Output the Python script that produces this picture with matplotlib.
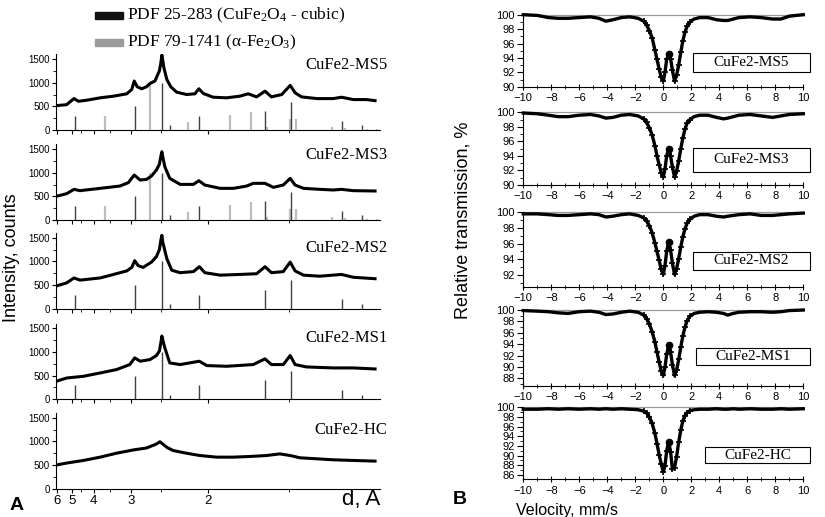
import numpy as np
import matplotlib
matplotlib.use('Agg')
import matplotlib.pyplot as plt
from matplotlib.patches import Rectangle
from matplotlib.ticker import MultipleLocator, FixedLocator, NullFormatter

plt.rcParams['font.family'] = ['Liberation Sans', 'DejaVu Sans']
plt.rcParams['mathtext.fontset'] = 'custom'
plt.rcParams['mathtext.rm'] = 'Liberation Serif'
plt.rcParams['mathtext.default'] = 'regular'
SERIF = ['Liberation Serif', 'DejaVu Serif']

############
### Data ###
############

# XRD patterns, 2theta (Cu K-alpha) vs counts
tt_ms5 = [14.6, 16.7, 18.2, 19.1, 20.8, 23.5, 26.2, 28.9, 29.9, 30.4, 31.0, 31.9, 32.9, 33.6, 34.6,
          35.5, 35.8, 36.0, 36.2, 36.4, 37.0, 37.8, 39.0, 41.0, 42.7, 43.5, 44.4, 46.4, 49.1, 51.8,
          53.5, 55.2, 56.9, 58.2, 60.3, 62.0, 63.0, 64.3, 67.4, 70.7, 72.4, 74.8, 77.5, 79.2]
I_ms5 = [515, 535, 665, 607, 630, 680, 715, 765, 857, 1035, 914, 871, 914, 985, 1035,
         1250, 1420, 1585, 1460, 1320, 1070, 914, 800, 750, 765, 871, 771, 693, 680, 715,
         765, 700, 821, 700, 750, 943, 786, 700, 664, 664, 693, 643, 643, 620]

tt_ms3 = [14.6, 16.7, 18.2, 19.4, 23.5, 27.5, 29.2, 30.4, 31.6, 32.9, 33.9, 34.9, 35.5, 35.8, 36.0,
          36.2, 36.6, 37.6, 39.7, 42.4, 43.5, 44.7, 47.8, 50.5, 53.2, 54.5, 56.9, 58.6, 60.6, 62.0,
          63.0, 64.7, 68.0, 70.7, 72.4, 74.8, 79.2]
I_ms3 = [500, 556, 648, 620, 669, 718, 789, 950, 845, 859, 930, 1056, 1180, 1350, 1443,
         1330, 1126, 880, 753, 753, 831, 739, 669, 669, 718, 775, 775, 690, 739, 880,
         739, 669, 648, 634, 648, 620, 613]

tt_ms2 = [14.6, 16.7, 18.2, 19.4, 23.5, 26.2, 28.9, 29.9, 30.5, 31.2, 32.2, 33.9, 34.9, 35.5, 35.8,
          36.0, 36.2, 37.0, 38.0, 39.7, 42.4, 43.6, 44.7, 47.8, 51.8, 55.2, 56.9, 58.2, 60.6, 62.0,
          63.0, 64.7, 68.0, 72.4, 74.8, 79.2]
I_ms2 = [480, 545, 650, 604, 650, 724, 799, 873, 1015, 910, 873, 985, 1100, 1250, 1450,
         1550, 1400, 1060, 813, 761, 784, 888, 761, 709, 724, 739, 888, 761, 784, 985,
         799, 709, 687, 724, 664, 634]

tt_ms1 = [14.6, 16.7, 20.1, 23.5, 26.8, 29.5, 30.5, 31.6, 33.6, 34.9, 35.5, 35.8, 36.0, 36.2, 36.6,
          37.6, 39.7, 43.6, 45.1, 49.1, 54.5, 56.9, 58.2, 60.6, 62.0, 63.0, 65.3, 70.7, 74.8, 79.2]
I_ms1 = [380, 450, 486, 557, 628, 734, 876, 805, 840, 925, 1020, 1200, 1337, 1250, 1088,
         769, 734, 805, 713, 698, 734, 855, 734, 734, 925, 734, 684, 663, 663, 641]

tt_hc = [14.6, 16.7, 20.1, 23.5, 26.8, 30.2, 32.9, 34.9, 35.6, 36.0, 37.0, 38.3, 41.0, 43.7, 47.1,
         50.5, 53.8, 57.2, 59.9, 62.0, 64.0, 67.4, 70.7, 74.8, 79.2]
I_hc = [500, 542, 597, 667, 750, 819, 861, 944, 993, 960, 875, 806, 750, 701, 667,
        667, 681, 701, 736, 701, 653, 632, 611, 597, 583]

# reference stick patterns
cubic_tt = [18.5, 30.5, 36.1, 37.6, 43.5, 56.9, 62.2, 72.4, 76.6]
cubic_I = [300, 500, 1000, 100, 300, 400, 600, 200, 100]
hem_tt = [24.4, 33.65, 41.35, 49.8, 54.1, 57.4, 61.9, 63.2, 70.4, 73.1, 77.5, 79.5]
hem_I = [300, 1000, 170, 320, 390, 70, 240, 230, 60, 40, 15, 15]

# Mossbauer spectra, velocity (mm/s) vs relative transmission (%)
vel = [-10, -9, -8.2, -7.5, -6.8, -6, -5.2, -4.6, -4.1, -3.6, -3, -2.4, -1.8, -1.4, -1.2, -1.0,
       -0.8, -0.6, -0.45, -0.3, -0.15, 0.0, 0.12, 0.24, 0.38, 0.52, 0.65, 0.8, 0.95, 1.1, 1.25,
       1.4, 1.55, 1.7, 1.9, 2.2, 2.6, 3.2, 3.8, 4.3, 4.6, 5.0, 5.4, 6.2, 7.0, 7.8, 8.4, 9.0, 10]
tr_ms5 = [100.0, 99.9, 99.6, 99.5, 99.5, 99.6, 99.7, 99.5, 99.1, 99.3, 99.6, 99.7, 99.5, 99.1, 98.6, 97.8,
          96.8, 95.1, 93.8, 92.5, 91.3, 90.8, 92.0, 93.8, 94.5, 93.9, 92.3, 90.8, 91.6, 93.0, 94.8,
          96.4, 97.6, 98.4, 99.0, 99.4, 99.6, 99.6, 99.3, 99.2, 99.2, 99.4, 99.6, 99.7, 99.6, 99.4, 99.4, 99.8, 100.0]
tr_ms3 = [99.9, 99.8, 99.6, 99.4, 99.4, 99.6, 99.7, 99.5, 99.2, 99.3, 99.6, 99.7, 99.5, 99.1, 98.6, 97.9,
          96.9, 95.4, 94.0, 92.8, 91.7, 91.1, 92.2, 94.0, 95.0, 94.0, 92.5, 91.1, 91.9, 93.3, 95.0,
          96.5, 97.7, 98.5, 99.0, 99.4, 99.6, 99.6, 99.3, 99.1, 99.2, 99.4, 99.6, 99.7, 99.5, 99.3, 99.5, 99.7, 99.8]
tr_ms2 = [99.8, 99.8, 99.7, 99.6, 99.6, 99.7, 99.8, 99.7, 99.4, 99.5, 99.7, 99.8, 99.6, 99.3, 98.9, 98.3,
          97.4, 96.1, 95.0, 93.9, 92.7, 92.1, 93.2, 95.0, 96.2, 95.2, 93.5, 92.1, 92.8, 94.1, 95.6,
          96.9, 97.9, 98.6, 99.1, 99.5, 99.7, 99.7, 99.5, 99.4, 99.5, 99.6, 99.7, 99.8, 99.6, 99.6, 99.7, 99.8, 99.9]
tr_ms1 = [99.9, 99.8, 99.7, 99.5, 99.4, 99.7, 99.8, 99.6, 99.2, 99.3, 99.6, 99.8, 99.6, 99.1, 98.5, 97.6,
          96.2, 94.4, 92.6, 90.9, 89.3, 88.5, 89.9, 92.2, 93.8, 92.6, 90.4, 88.5, 89.4, 91.3, 93.5,
          95.5, 97.0, 98.1, 98.9, 99.4, 99.6, 99.7, 99.6, 99.4, 99.1, 99.4, 99.6, 99.7, 99.7, 99.6, 99.7, 99.9, 100.0]
tr_hc = [99.6, 99.6, 99.7, 99.6, 99.7, 99.6, 99.7, 99.6, 99.7, 99.6, 99.7, 99.6, 99.5, 99.2, 98.8, 98.0,
         96.7, 94.6, 92.5, 90.2, 88.3, 86.7, 87.9, 91.0, 92.9, 90.8, 87.2, 87.5, 89.8, 92.8, 95.3,
         97.2, 98.3, 98.9, 99.3, 99.5, 99.6, 99.6, 99.7, 99.6, 99.6, 99.7, 99.6, 99.7, 99.6, 99.6, 99.7, 99.6, 99.7]

sample_names = ['CuFe2-MS5', 'CuFe2-MS3', 'CuFe2-MS2', 'CuFe2-MS1', 'CuFe2-HC']

##############
### Layout ###
##############

W, H = 825, 517
fig = plt.figure(figsize=(W / 100, H / 100), dpi=100)


def px_axes(x0, y_top, x1, y_bot):
    return fig.add_axes([x0 / W, 1 - y_bot / H, (x1 - x0) / W, (y_bot - y_top) / H])


def two_theta(d, lam=1.5406):
    return 2 * np.degrees(np.arcsin(lam / (2 * d)))


###############
### XRD (A) ###
###############

xrd = [
    (tt_ms5, I_ms5, True, True),
    (tt_ms3, I_ms3, True, True),
    (tt_ms2, I_ms2, True, False),
    (tt_ms1, I_ms1, True, False),
    (tt_hc, I_hc, False, False),
]
xrd_bottoms = [130, 220, 308.7, 399.3, 488.7]
label_y = [0.86, 0.86, 0.80, 0.81, 0.775]

for i, (tt, inten, show_cubic, show_hem) in enumerate(xrd):
    yb = xrd_bottoms[i]
    ax = px_axes(56, yb - 75.7, 380, yb)
    if show_hem:
        ax.vlines(hem_tt, 0, hem_I, color='#bdbdbd', lw=1.6, zorder=1)
    if show_cubic:
        ax.vlines(cubic_tt, 0, cubic_I, color='#404040', lw=1.0, zorder=2)
    ax.plot(tt, inten, color='black', lw=2.2, zorder=3)

    ax.set_xlim(14.55, 80.2)
    ax.set_ylim(0, 1600)
    for s in ['top', 'right']:
        ax.spines[s].set_visible(False)
    ax.yaxis.set_major_locator(FixedLocator([0, 500, 1000, 1500]))
    ax.yaxis.set_minor_locator(FixedLocator([250, 750, 1250]))
    ax.xaxis.set_major_locator(FixedLocator([two_theta(d) for d in [6, 5, 4, 3, 2]]))
    ax.xaxis.set_minor_locator(FixedLocator([two_theta(d) for d in [4.5, 3.5, 2.5, 1.5]]))
    ax.tick_params(which='both', direction='out', labelsize=7, pad=1.5)
    ax.tick_params(which='major', length=3)
    ax.tick_params(which='minor', length=2)
    if i == len(xrd) - 1:
        ax.set_xticklabels(['6', '5', '4', '3', '2'], fontsize=9.5)
    else:
        ax.xaxis.set_major_formatter(NullFormatter())
    ax.text(1.023, label_y[i], sample_names[i], transform=ax.transAxes, ha='right', va='center',
            fontsize=12, family=SERIF)

# legend for the stick patterns
fig.patches.append(Rectangle((95 / W, 1 - 19 / H), 28 / W, 7 / H, transform=fig.transFigure,
                             color='#111111'))
fig.patches.append(Rectangle((95 / W, 1 - 46 / H), 28 / W, 7 / H, transform=fig.transFigure,
                             color='#9a9a9a'))
fig.text(127 / W, 1 - 15.5 / H, 'PDF 25-283 (CuFe$_2$O$_4$ - cubic)', fontsize=12.5, family=SERIF,
         va='center')
fig.text(127 / W, 1 - 42.5 / H, 'PDF 79-1741 (\u03b1-Fe$_2$O$_3$)', fontsize=12.5, family=SERIF,
         va='center')

fig.text(12 / W, 1 - 258 / H, 'Intensity, counts', rotation=90, ha='center', va='center', fontsize=13)
fig.text(380 / W, 1 - 500 / H, 'd, A', ha='right', va='center', fontsize=16)
fig.text(10 / W, 1 - 506 / H, 'A', ha='left', va='center', fontsize=14, fontweight='bold')

#####################
### Mossbauer (B) ###
#####################

moss = [tr_ms5, tr_ms3, tr_ms2, tr_ms1, tr_hc]
moss_box = [(14.7, 86.7), (112.3, 185), (212.3, 286.7), (310, 386), (407.3, 479.3)]
moss_ylim = [(90, 100), (90, 100), (90.5, 100), (86.64, 100), (85.1, 100)]
box_pos = [(0.606, 0.204, 0.468), (0.606, 0.183, 0.505), (0.606, 0.224, 0.47),
           (0.618, 0.276, 0.496), (0.648, 0.222, 0.453)]

# markers only where the doublet walls are (-1.4 ... 1.9 mm/s)
doublet = slice(vel.index(-1.4), vel.index(1.9) + 1)

for i, tr in enumerate(moss):
    y_top, y_bot = moss_box[i]
    ax = px_axes(523.3, y_top, 803.3, y_bot)
    ax.axhline(100, color='#9a9a9a', lw=0.9, clip_on=False, zorder=1)
    ax.plot(vel, tr, color='black', lw=2.4, marker='+', ms=5, mew=1.2, markevery=doublet,
            clip_on=False, zorder=3)
    j = vel.index(0.38)
    ax.plot(vel[j], tr[j], 'o', color='black', ms=4.5, zorder=4)

    ax.set_xlim(-10, 10)
    ax.set_ylim(*moss_ylim[i])
    for s in ['top', 'right']:
        ax.spines[s].set_visible(False)
    ax.xaxis.set_major_locator(MultipleLocator(2))
    ax.xaxis.set_minor_locator(MultipleLocator(1))
    ax.yaxis.set_major_locator(MultipleLocator(2))
    ax.yaxis.set_minor_locator(MultipleLocator(1))
    ax.tick_params(which='both', labelsize=8, pad=2)
    ax.tick_params(axis='y', which='major', direction='out', length=4)
    ax.tick_params(axis='y', which='minor', direction='out', length=2.5)
    ax.tick_params(axis='x', which='major', direction='inout', length=5)
    ax.tick_params(axis='x', which='minor', direction='inout', length=3)

    x0, b0, b1 = box_pos[i]
    ax.add_patch(Rectangle((x0, b0), 1.024 - x0, b1 - b0, transform=ax.transAxes, fill=False,
                           edgecolor='black', lw=0.8, clip_on=False, zorder=5))
    ax.text((x0 + 1.024) / 2, (b0 + b1) / 2, sample_names[i], transform=ax.transAxes,
            ha='center', va='center', fontsize=11, family=SERIF)

fig.text(463 / W, 1 - 220 / H, 'Relative transmission, %', rotation=90, ha='center', va='center',
         fontsize=13)
fig.text(567 / W, 1 - 510 / H, 'Velocity, mm/s', ha='center', va='center', fontsize=11.5)
fig.text(453 / W, 1 - 499 / H, 'B', ha='left', va='center', fontsize=14, fontweight='bold')

fig.savefig('out.png', dpi=100)
